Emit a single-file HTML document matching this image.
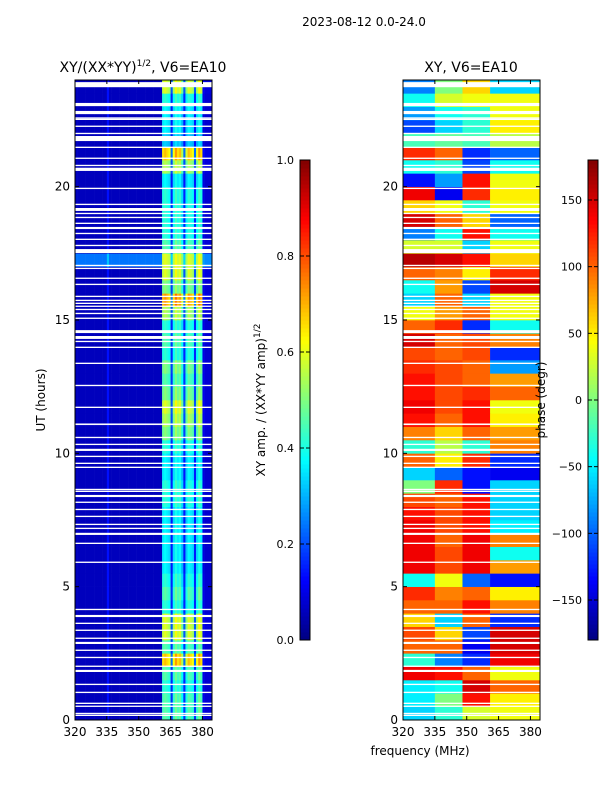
<!DOCTYPE html>
<html><head><meta charset="utf-8"><style>
body{margin:0;background:#fff;}
svg{display:block;font-family:"DejaVu Sans","Liberation Sans",sans-serif;}
</style></head><body>
<svg id="fig" width="600" height="800" viewBox="0 0 600 800">
<rect width="600" height="800" fill="#fff"/>
<text x="364" y="26" font-size="12" text-anchor="middle">2023-08-12 0.0-24.0</text>
<text x="143" y="72" font-size="14" text-anchor="middle">XY/(XX*YY)<tspan dy="-6" font-size="9">1/2</tspan><tspan dy="6">, V6=EA10</tspan></text>
<text x="471" y="72" font-size="14" text-anchor="middle">XY, V6=EA10</text>
<text x="420" y="755" font-size="12" text-anchor="middle">frequency (MHz)</text>
<text transform="translate(45,400) rotate(-90)" font-size="12" text-anchor="middle">UT (hours)</text>
<text transform="translate(265,400) rotate(-90)" font-size="12" text-anchor="middle">XY amp. / (XX*YY amp)<tspan dy="-5" font-size="9">1/2</tspan></text>
<g id="left"></g>
<g id="right"></g>
<g id="cb1"></g>
<g id="cb2"></g>
<text transform="translate(545,400) rotate(-90)" font-size="12" text-anchor="middle">phase (degr)</text>
</svg>
<script>
// half-hour rows, index 0 = 0-0.5h
const ampLevel=[0.45,0.45,0.4,0.45,0.7,0.45,0.6,0.6,0.4,0.45,0.4,0.35,0.35,0.35,0.35,0.35,0.4,0.4,0.35,0.35,0.4,0.5,0.55,0.6,
0.5,0.45,0.5,0.4,0.45,0.4,0.55,0.75,0.5,0.6,0.4,0.45,0.4,0.4,0.4,0.4,0.35,0.55,0.7,0.3,0.35,0.35,0.4,0.6];
const ampBand=[0,0,0,0,0,0,0,0,0,0,0,0,0,0,0,0,0,0,0,0,0,0,0,0,0,0,0,0,0,0,0,0,0,0,0.18,0,0,0,0,0,0,0,0,0,0,0,0,0];
// 1 MHz frequency bins 320..384
const freqs=[];for(let f=320;f<=384;f++)freqs.push(f);
const ampBg=[0.06,0.06,0.06,0.06,0.06,0.06,0.06,0.06,0.06,0.06,0.06,0.06,0.06,0.06,0.06,0.14,0.06,0.06,0.06,0.06,0.06,0.06,0.06,0.06,0.06,0.06,0.06,0.06,0.06,0.06,0.06,0.06,0.06,0.06,0.06,0.06,0.06,0.06,0.06,0.06,0.06,0.06,0.06,0.06,0.06,0.06,0.06,0.06,0.06,0.06,0.06,0.06,0.06,0.06,0.06,0.06,0.06,0.06,0.06,0.06,0.06,0.06,0.06,0.06,0.06];
const ampStripe=[0,0,0,0,0,0,0,0,0,0,0,0,0,0,0,0,0,0,0,0,0,0,0,0,0,0,0,0,0,0,0,0,0,0,0,0,0,0,0,0,0,0.85,0.9,0.85,0.8,0.25,0.8,0.95,0.85,0.9,0.7,0.25,0.75,0.9,0.85,0.8,0.25,0.8,0.95,0.85,0.1,0.05,0.05,0.05,0.05];
// phase: segment edges (MHz) and per-row segment values (deg), row 0 = 0-0.5h
const phaseEdges=[320,335,348,361,384.5];
const phaseRows=[
[-60,-30,30,40],[-50,0,130,50],[-50,-40,150,100],[140,130,100,40],[-30,-90,-120,140],[100,100,-140,150],[110,60,-110,150],[60,-60,100,-120],
[100,100,130,90],[120,90,100,50],[-40,40,-100,-130],[140,110,140,80],[140,110,140,-40],[140,100,140,90],[140,110,130,-50],[130,110,130,-60],
[110,100,130,-60],[0,120,-130,-60],[-60,-100,-130,-140],[100,50,120,-120],[-30,20,-30,90],[90,60,100,80],[130,100,130,50],[140,110,130,40],
[130,110,120,100],[130,110,100,80],[120,110,100,-80],[110,100,110,-120],[150,100,110,90],[100,120,-120,-40],[40,80,100,40],[-60,100,-60,40],
[-40,80,-110,150],[100,90,50,120],[160,150,130,60],[30,30,-60,40],[-90,-40,130,-40],[150,100,60,-100],[60,40,-30,40],[140,-140,120,50],
[-130,-80,130,40],[-40,-30,-110,-40],[120,100,-120,-100],[-20,-10,-20,20],[-110,-60,-30,50],[-80,-40,-30,40],[-40,30,40,40],[-90,0,60,-60]];
// white gaps: [hour, width in hours]
const gaps=[[23.73,0.19],[23.02,0.12],[22.72,0.12],[22.55,0.05],[22.5,0.05],[22.24,0.05],[21.97,0.05],[21.71,0.19],[21.45,0.05],[21.04,0.05],[20.77,0.05],[20.59,0.12],[19.91,0.05],[19.31,0.05],[19.09,0.11],[18.97,0.05],[18.82,0.05],[18.6,0.05],[18.41,0.08],[18.22,0.05],[18.0,0.05],[17.77,0.05],[17.51,0.15],[17.02,0.05],[16.91,0.05],[16.54,0.05],[16.31,0.05],[15.86,0.05],[15.71,0.05],[15.6,0.05],[15.49,0.05],[15.37,0.05],[15.22,0.05],[15.04,0.05],[14.51,0.11],[14.29,0.11],[14.17,0.05],[13.95,0.05],[13.35,0.05],[12.52,0.05],[11.7,0.05],[11.06,0.06],[10.57,0.05],[10.31,0.05],[10.09,0.08],[9.86,0.05],[9.6,0.05],[9.45,0.05],[8.62,0.05],[8.55,0.05],[8.36,0.08],[8.14,0.05],[7.87,0.05],[7.61,0.05],[7.31,0.05],[7.16,0.05],[6.94,0.08],[6.6,0.05],[5.89,0.05],[4.12,0.05],[3.86,0.08],[3.6,0.05],[3.34,0.05],[3.04,0.05],[2.85,0.08],[2.59,0.05],[2.32,0.05],[1.99,0.05],[1.8,0.08],[1.31,0.05],[1.01,0.05],[0.6,0.05],[0.49,0.05],[0.22,0.05],[0.15,0.05]];
const xTicks=[320,335,350,365,380];
const yTicks=[0,5,10,15,20];
const ampTicks=[0.0,0.2,0.4,0.6,0.8,1.0];
const phaseTicks=[-150,-100,-50,0,50,100,150];

const NS='http://www.w3.org/2000/svg';
const PT=80,PB=720,PW=137,FMIN=320,FMAX=384.5;
function yS(h){return PB-(h/24)*(PB-PT);}
function xS(x0,f){return x0+(f-FMIN)/(FMAX-FMIN)*PW;}
function cl(v){return Math.max(0,Math.min(1,v));}
function jet(v){v=cl(v);const r=cl(1.5-Math.abs(4*v-3)),g=cl(1.5-Math.abs(4*v-2)),b=cl(1.5-Math.abs(4*v-1));
return 'rgb('+Math.round(r*255)+','+Math.round(g*255)+','+Math.round(b*255)+')';}
function mk(tag,attrs,parent){const e=document.createElementNS(NS,tag);for(const k in attrs)e.setAttribute(k,attrs[k]);parent.appendChild(e);return e;}

const L=document.getElementById('left'),R=document.getElementById('right');
for(let i=0;i<ampLevel.length;i++){
  const y1=yS((i+1)/2),y0=yS(i/2);
  for(let j=0;j<freqs.length;j++){
    const f=freqs[j];const xa=xS(75,f),xb=xS(75,Math.min(f+1,FMAX));
    const v=ampBg[j]+ampBand[i]+ampStripe[j]*ampLevel[i];
    const r=mk('rect',{x:xa,y:y1,width:xb-xa+0.3,height:y0-y1+0.3,fill:jet(v)},L);
    
    
  }
}
for(let i=0;i<phaseRows.length;i++){
  const y1=yS((i+1)/2),y0=yS(i/2);
  for(let s=0;s<4;s++){
    const xa=xS(403,phaseEdges[s]),xb=xS(403,phaseEdges[s+1]);
    const r=mk('rect',{x:xa,y:y1,width:xb-xa+0.3,height:y0-y1+0.3,fill:jet((phaseRows[i][s]+180)/360)},R);
    
    
  }
}
[[L,75],[R,403]].forEach(([g,x0])=>{
  gaps.forEach(gp=>{
    const r=mk('rect',{x:x0,y:yS(gp[0]+gp[1]),width:PW,height:Math.max(1.2,yS(gp[0])-yS(gp[0]+gp[1])),fill:'#fff'},g);
    
    
  });
  const fr=mk('rect',{x:x0,y:PT,width:PW,height:PB-PT,fill:'none',stroke:'#000','stroke-width':1},g);
  
  
  xTicks.forEach(t=>{const x=xS(x0,t);
    mk('line',{x1:x,x2:x,y1:PB,y2:PB-4,stroke:'#000'},g);mk('line',{x1:x,x2:x,y1:PT,y2:PT+4,stroke:'#000'},g);
    const tx=mk('text',{x:x,y:PB+16,'font-size':12,'text-anchor':'middle'},g);tx.textContent=t;
    
    });
  yTicks.forEach(t=>{const y=yS(t);
    mk('line',{x1:x0,x2:x0+4,y1:y,y2:y,stroke:'#000'},g);mk('line',{x1:x0+PW,x2:x0+PW-4,y1:y,y2:y,stroke:'#000'},g);
    const tx=mk('text',{x:x0-5,y:y+4,'font-size':12,'text-anchor':'end'},g);tx.textContent=t;
    
    });
});
function cbar(g,x0,vmin,vmax,ticks){
  const top=160,bot=640,n=120;
  for(let k=0;k<n;k++){const y=bot-(k+1)*(bot-top)/n;
    mk('rect',{x:x0,y:y,width:10,height:(bot-top)/n+0.5,fill:jet((k+0.5)/n)},g);}
  const fr=mk('rect',{x:x0,y:top,width:10,height:bot-top,fill:'none',stroke:'#000'},g);
  
  
  ticks.forEach(t=>{const y=bot-(t-vmin)/(vmax-vmin)*(bot-top);
    mk('line',{x1:x0,x2:x0+4,y1:y,y2:y,stroke:'#000'},g);mk('line',{x1:x0+10,x2:x0+6,y1:y,y2:y,stroke:'#000'},g);
    const tx=mk('text',{x:x0-6,y:y+4,'font-size':11,'text-anchor':'end'},g);
    tx.textContent=(vmax===1?t.toFixed(1):(t<0?'\u2212'+(-t):t));
    
    });
}
cbar(document.getElementById('cb1'),300,0,1,ampTicks);
cbar(document.getElementById('cb2'),588,-180,180,phaseTicks);
</script>
</body></html>
